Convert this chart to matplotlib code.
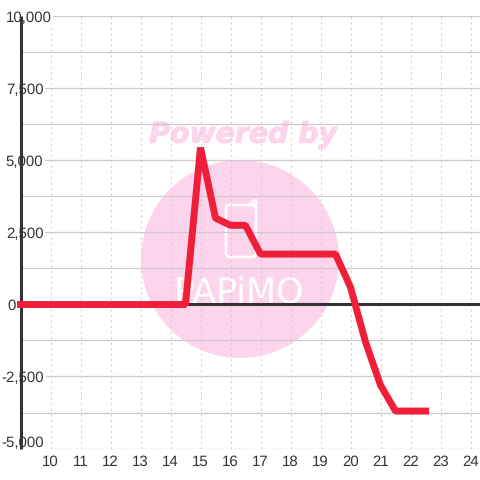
import matplotlib
matplotlib.use('Agg')
import matplotlib.pyplot as plt
import matplotlib.patheffects as pe
from matplotlib.patches import Circle, FancyBboxPatch
from matplotlib.transforms import ScaledTranslation

x_values = [9, 14.5, 15, 15.5, 16, 16.5, 17, 19.5, 20, 20.5, 21, 21.5, 22.5]
y_values = [0, 0, 5450, 3000, 2750, 2750, 1750, 1750, 600, -1300, -2800, -3700, -3700]
x_ticks = list(range(10, 25))
y_major = [-5000, -2500, 0, 2500, 5000, 7500, 10000]
y_labels = ['-5,000', '-2,500', '0', '2,500', '5,000', '7,500', '10,000']
y_grid = [-3750, -1250, 1250, 3750, 6250, 8750]

plt.rcParams['font.family'] = ['Liberation Sans', 'DejaVu Sans']
plt.rcParams['text.hinting'] = 'no_hinting'
plt.rcParams['text.hinting_factor'] = 1
W = 480
fig = plt.figure(figsize=(4.8, 4.8), dpi=100, facecolor='white')
ax = fig.add_axes([20.5/W, 1-448.5/W, (W-20.5)/W, (448.5-16.5)/W])
ax.set_xlim(9, 9 + (W-20.5)/30)
ax.set_ylim(-5000, 10000)
ax.patch.set_visible(False)
for s in ax.spines.values():
    s.set_visible(False)

# watermark, in pixel coordinates
bg = fig.add_axes([0, 0, 1, 1], zorder=-1)
bg.set_xlim(0, W); bg.set_ylim(W, 0); bg.axis('off')
pink = '#fcd5ec'
bg.add_patch(Circle((240, 259), 99, fc=pink, ec='none'))
bg.text(242, 135, 'Powered by', color=pink, fontsize=20.4, fontweight='bold', style='italic',
        family='DejaVu Sans', ha='center', va='center',
        path_effects=[pe.withStroke(linewidth=0.8, foreground=pink)])
bg.add_patch(FancyBboxPatch((226, 205), 30, 52, boxstyle='round,pad=0,rounding_size=4',
                            fc='none', ec='white', lw=1.9))
bg.plot([250, 254, 256, 256], [205, 200.5, 200.5, 210], color='white', lw=1.9, solid_capstyle='round')
bg.text(239, 304, 'PAPiMO', color='white', fontsize=25, ha='center', va='baseline', family='DejaVu Sans')

grid_c = '#cccccc'
ax.hlines(y_major + y_grid, 9, ax.get_xlim()[1], color=grid_c, lw=0.9, zorder=1)
ax.vlines(x_ticks, -5000, 10000, color=grid_c, lw=0.75, linestyles=(0, (1.9, 3.4)), zorder=1)
ax.vlines(9, -5000, 10000, color='#333333', lw=2.2, zorder=2, clip_on=False, capstyle='butt')
ax.axhline(0, color='#333333', lw=2.2, zorder=3)
ax.plot(x_values, y_values, color='#f01f39', lw=5.0, solid_joinstyle='bevel',
        solid_capstyle='projecting', zorder=4, clip_on=False)

ax.set_xticks(x_ticks)
ax.set_xticklabels([str(v) for v in x_ticks])
ax.set_yticks(y_major)
ax.set_yticklabels(y_labels)
ax.tick_params(axis='x', length=0, pad=5, labelsize=11, labelcolor='#333333')
ax.tick_params(axis='y', length=0, pad=10.6, labelsize=11, labelcolor='#333333')
for lab, text in zip(ax.get_yticklabels(), y_labels):
    lab.set_ha('left')
    lab.set_zorder(6)
    lab.set_bbox(dict(fc='white', ec='none', pad=2 if text == '-5,000' else 1))
    dx, dy = 0, 0
    if text.startswith('-'):
        dx = -4
    if text == '0':
        dx = 2
    if text == '-5,000':
        dy = 7
    if dx or dy:
        lab.set_transform(lab.get_transform() + ScaledTranslation(dx/100, dy/100, fig.dpi_scale_trans))

fig.savefig('out.png', dpi=100)
